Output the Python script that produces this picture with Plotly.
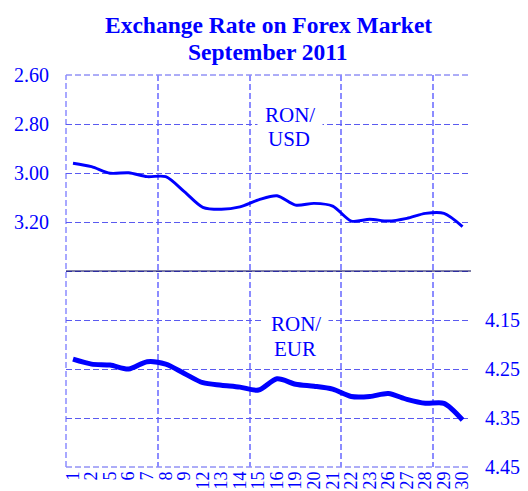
import plotly.graph_objects as go

days = ["1", "2", "5", "6", "7", "8", "9", "12", "13", "14", "15", "16",
        "19", "20", "21", "22", "23", "26", "27", "28", "29", "30"]
ron_usd = [2.960, 2.974, 3.001, 2.999, 3.015, 3.015, 3.076, 3.140, 3.148, 3.138, 3.110,
           3.093, 3.131, 3.124, 3.135, 3.196, 3.189, 3.196, 3.185, 3.165, 3.165, 3.219]
ron_eur = [4.230, 4.240, 4.242, 4.250, 4.235, 4.240, 4.259, 4.278, 4.283, 4.287, 4.293,
           4.270, 4.281, 4.285, 4.291, 4.306, 4.306, 4.300, 4.312, 4.320, 4.320, 4.354]
usd_ticks = [2.60, 2.80, 3.00, 3.20, 3.40, 3.60, 3.80, 4.00, 4.20]
usd_labels = ["2.60", "2.80", "3.00", "3.20", "", "", "", "", ""]
eur_ticks = [4.15, 4.25, 4.35, 4.45]
eur_labels = ["4.15", "4.25", "4.35", "4.45"]

BLUE = "#0000ff"
FONT = "Liberation Serif"
HGRID = "#5a5af0"
VGRID = "#8c8cff"
DASH = "6px,3px"
idx = list(range(len(days)))

fig = go.Figure()
fig.add_trace(go.Scatter(x=idx, y=ron_usd, mode="lines", yaxis="y",
                         line=dict(color=BLUE, width=2.9, shape="spline", smoothing=0.8),
                         hoverinfo="x+y", showlegend=False))
fig.add_trace(go.Scatter(x=idx, y=ron_eur, mode="lines", yaxis="y2",
                         line=dict(color=BLUE, width=5, shape="spline", smoothing=0.8),
                         hoverinfo="x+y", showlegend=False))

def label(text, x, y, size=21, bold=False, bg=None):
    t = f"<b>{text}</b>" if bold else text
    d = dict(text=t, xref="paper", x=x, yref="paper", y=y, xanchor="center",
             yanchor="middle", showarrow=False,
             font=dict(family=FONT, size=size, color=BLUE))
    if bg:
        d.update(bgcolor=bg, borderpad=7)
    return d

fig.update_layout(
    width=528, height=491,
    margin=dict(l=66, r=57, t=75, b=24),
    paper_bgcolor="white", plot_bgcolor="white",
    xaxis=dict(range=[-0.377, 21.456], tickmode="array", tickvals=idx, ticktext=days,
               tickangle=-90, showgrid=False, zeroline=False, showline=False,
               automargin=False, ticks="",
               tickfont=dict(family=FONT, size=18, color=BLUE),
               minor=dict(tick0=-0.377, dtick=4.949, showgrid=True,
                          gridcolor=VGRID, gridwidth=1.5, griddash=DASH)),
    yaxis=dict(range=[4.20, 2.60], tickmode="array", tickvals=usd_ticks, ticktext=usd_labels,
               showgrid=True, gridcolor=HGRID, gridwidth=1, griddash=DASH,
               zeroline=False, showline=False, ticks="", ticklabelstandoff=16,
               automargin=False, tickfont=dict(family=FONT, size=20, color=BLUE)),
    yaxis2=dict(range=[4.45, 3.65], overlaying="y", side="right", tickmode="array",
                tickvals=eur_ticks, ticktext=eur_labels, showgrid=False, zeroline=False,
                showline=False, ticks="", ticklabelstandoff=13, automargin=False,
                tickfont=dict(family=FONT, size=20, color=BLUE)),
    shapes=[
        dict(type="line", xref="paper", x0=0, x1=1, yref="paper", y0=1, y1=1,
             line=dict(color=HGRID, width=1, dash=DASH), layer="below"),
        dict(type="line", xref="paper", x0=0, x1=1, yref="paper", y0=0, y1=0,
             line=dict(color=HGRID, width=1, dash=DASH), layer="below"),
        dict(type="line", xref="paper", x0=0, x1=0, yref="paper", y0=0, y1=1,
             line=dict(color=VGRID, width=1.5, dash=DASH), layer="below"),
        dict(type="line", xref="paper", x0=0, x1=1, yref="y", y0=3.40, y1=3.40,
             line=dict(color="#000050", width=1)),
    ],
    annotations=[
        label("Exchange Rate on Forex Market", 0.5004, 1.1276, size=23.5, bold=True),
        label("September 2011", 0.499, 1.0594, size=23.5, bold=True),
        label("RON/", 0.5535, 0.898, bg="white"),
        label("USD", 0.551, 0.8355),
        label("RON/", 0.568, 0.366, bg="white"),
        label("EUR", 0.566, 0.302),
    ],
)

fig.write_html("out.html", config={"displayModeBar": False},
               post_script="document.body.style.margin='0';document.body.style.overflow='hidden';")
